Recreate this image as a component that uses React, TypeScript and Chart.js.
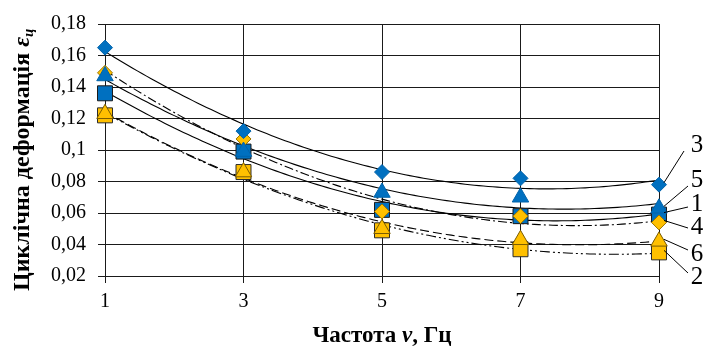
import React, { useEffect, useRef } from "react";
import { Chart, registerables } from "chart.js";

Chart.register(...registerables);

// ---- data ----
const frequencies = [1, 3, 5, 7, 9];
const series3 = [0.165, 0.112, 0.086, 0.082, 0.078]; // blue diamond
const series5 = [0.147, 0.099, 0.073, 0.07, 0.063]; // blue triangle
const series1 = [0.136, 0.099, 0.062, 0.058, 0.059]; // blue square
const series4 = [0.149, 0.107, 0.061, 0.058, 0.054]; // yellow diamond
const series6 = [0.123, 0.086, 0.05, 0.043, 0.042]; // yellow triangle
const series2 = [0.122, 0.086, 0.049, 0.037, 0.035]; // yellow square
const xTickValues = [1, 3, 5, 7, 9];
const yTickValues = [0.02, 0.04, 0.06, 0.08, 0.1, 0.12, 0.14, 0.16, 0.18];
const yTitle = "Циклічна деформація ";
const yTitleSymbol = "ε";
const yTitleSub = "ц";
const xTitleA = "Частота ";
const xTitleSym = "ν";
const xTitleB = ", Гц";

const FONT = "'Liberation Serif', 'Times New Roman', serif";

type Def = {
  label: string;
  values: number[];
  pointStyle: string;
  radius: number;
  fill: string;
  stroke: string;
  dash: number[];
  order: number;
  labelY: number;
  leaderStart: [number, number];
};

const defs: Def[] = [
  { label: "3", values: series3, pointStyle: "rectRot", radius: 7.5, fill: "#0070C0", stroke: "#0063AA", dash: [], order: 0, labelY: 145, leaderStart: [684, 151] },
  { label: "5", values: series5, pointStyle: "triangle", radius: 9.5, fill: "#0070C0", stroke: "#0063AA", dash: [], order: 1, labelY: 180, leaderStart: [688, 186] },
  { label: "1", values: series1, pointStyle: "rect", radius: 10.6, fill: "#0070C0", stroke: "#1b1b1b", dash: [], order: 3, labelY: 204, leaderStart: [688, 207] },
  { label: "4", values: series4, pointStyle: "rectRot", radius: 7.5, fill: "#FFC000", stroke: "#9a7400", dash: [9, 3, 2, 3], order: 2, labelY: 227, leaderStart: [688, 228] },
  { label: "6", values: series6, pointStyle: "triangle", radius: 9.5, fill: "#FFC000", stroke: "#7a5c00", dash: [9, 4], order: 4, labelY: 254, leaderStart: [688, 250] },
  { label: "2", values: series2, pointStyle: "rect", radius: 10.6, fill: "#FFC000", stroke: "#2b2b2b", dash: [10, 3, 2, 3, 2, 3], order: 5, labelY: 277, leaderStart: [688, 273] },
];

function quadFit(xs: number[], ys: number[]) {
  let s0 = 0, s1 = 0, s2 = 0, s3 = 0, s4 = 0, t0 = 0, t1 = 0, t2 = 0;
  for (let i = 0; i < xs.length; i++) {
    const x = xs[i], y = ys[i];
    s0 += 1; s1 += x; s2 += x * x; s3 += x * x * x; s4 += x * x * x * x;
    t0 += y; t1 += x * y; t2 += x * x * y;
  }
  const det3 = (m: number[][]) =>
    m[0][0] * (m[1][1] * m[2][2] - m[1][2] * m[2][1]) -
    m[0][1] * (m[1][0] * m[2][2] - m[1][2] * m[2][0]) +
    m[0][2] * (m[1][0] * m[2][1] - m[1][1] * m[2][0]);
  const M = [[s0, s1, s2], [s1, s2, s3], [s2, s3, s4]];
  const T = [t0, t1, t2];
  const D = det3(M);
  const coef = [0, 1, 2].map((c) => {
    const Mc = M.map((row, r) => row.map((v, k) => (k === c ? T[r] : v)));
    return det3(Mc) / D;
  });
  return (x: number) => coef[0] + coef[1] * x + coef[2] * x * x;
}

const fmt = (v: number) => String(parseFloat(v.toFixed(2))).replace(".", ",");

const decorPlugin = {
  id: "decor",
  beforeDatasetsDraw(chart: any) {
    const { ctx, chartArea, scales } = chart;
    const xs = scales.x, ys = scales.y;
    ctx.save();
    ctx.beginPath();
    ctx.rect(chartArea.left, chartArea.top, chartArea.right - chartArea.left, chartArea.bottom - chartArea.top);
    ctx.clip();
    ctx.strokeStyle = "#000";
    ctx.lineWidth = 1.1;
    const x0 = frequencies[0], x1 = frequencies[frequencies.length - 1];
    defs.forEach((d) => {
      const f = quadFit(frequencies, d.values);
      ctx.setLineDash(d.dash);
      ctx.beginPath();
      const n = 120;
      for (let i = 0; i <= n; i++) {
        const xv = x0 + ((x1 - x0) * i) / n;
        const px = xs.getPixelForValue(xv);
        const py = ys.getPixelForValue(f(xv));
        if (i === 0) ctx.moveTo(px, py);
        else ctx.lineTo(px, py);
      }
      ctx.stroke();
    });
    ctx.restore();
  },
  afterDraw(chart: any) {
    const { ctx, chartArea, scales } = chart;
    const xs = scales.x, ys = scales.y;
    ctx.save();
    // series labels with leader lines
    ctx.fillStyle = "#000";
    ctx.strokeStyle = "#000";
    ctx.lineWidth = 1;
    ctx.font = `25px ${FONT}`;
    ctx.textAlign = "center";
    ctx.textBaseline = "middle";
    const lastX = frequencies[frequencies.length - 1];
    defs.forEach((d) => {
      const ex = xs.getPixelForValue(lastX) + 5;
      const ey = ys.getPixelForValue(d.values[d.values.length - 1]) - 2;
      ctx.beginPath();
      ctx.moveTo(d.leaderStart[0], d.leaderStart[1]);
      ctx.lineTo(ex, ey);
      ctx.stroke();
      ctx.fillText(d.label, 697, d.labelY);
    });

    // y axis title (rotated)
    ctx.save();
    ctx.translate(29, 291);
    ctx.rotate(-Math.PI / 2);
    ctx.textAlign = "left";
    ctx.textBaseline = "alphabetic";
    ctx.font = `bold 24px ${FONT}`;
    let w = 0;
    ctx.fillText(yTitle, w, 0);
    w += ctx.measureText(yTitle).width;
    ctx.font = `italic bold 24px ${FONT}`;
    ctx.fillText(yTitleSymbol, w, 0);
    w += ctx.measureText(yTitleSymbol).width;
    ctx.font = `italic bold 15px ${FONT}`;
    ctx.fillText(yTitleSub, w, 4);
    ctx.restore();

    // x axis title
    ctx.textBaseline = "alphabetic";
    ctx.textAlign = "left";
    const cx = (chartArea.left + chartArea.right) / 2;
    ctx.font = `bold 23px ${FONT}`;
    const wa = ctx.measureText(xTitleA).width;
    const wc = ctx.measureText(xTitleB).width;
    ctx.font = `italic bold 23px ${FONT}`;
    const wb = ctx.measureText(xTitleSym).width;
    let sx = cx - (wa + wb + wc) / 2;
    const by = 342;
    ctx.font = `bold 23px ${FONT}`;
    ctx.fillText(xTitleA, sx, by);
    sx += wa;
    ctx.font = `italic bold 23px ${FONT}`;
    ctx.fillText(xTitleSym, sx, by);
    sx += wb;
    ctx.font = `bold 23px ${FONT}`;
    ctx.fillText(xTitleB, sx, by);
    ctx.restore();
  },
};

export default function App() {
  const ref = useRef<HTMLCanvasElement | null>(null);
  useEffect(() => {
    if (!ref.current) return;
    const chart = new Chart(ref.current, {
      type: "scatter",
      data: {
        datasets: defs.map((d) => ({
          label: d.label,
          data: frequencies.map((x, i) => ({ x, y: d.values[i] })),
          pointStyle: d.pointStyle as any,
          pointRadius: d.radius,
          pointBackgroundColor: d.fill,
          pointBorderColor: d.stroke,
          pointBorderWidth: 1,
          showLine: false,
          clip: false as any,
          order: d.order,
        })),
      },
      options: {
        animation: false,
        responsive: false,
        devicePixelRatio: 1,
        layout: { padding: { left: 0, top: 23, right: 46, bottom: 0 } },
        plugins: { legend: { display: false }, tooltip: { enabled: false } },
        scales: {
          x: {
            type: "linear",
            min: 1,
            max: 9,
            afterFit: (s: any) => { s.height = 71; },
            afterBuildTicks: (s: any) => { s.ticks = xTickValues.map((v) => ({ value: v })); },
            ticks: { color: "#000", font: { family: FONT, size: 20 }, padding: 7, callback: (v: any) => String(v) },
            grid: { color: "#1a1a1a", lineWidth: 1, tickLength: 7 },
            border: { color: "#1a1a1a", width: 1 },
          },
          y: {
            type: "linear",
            min: 0.02,
            max: 0.18,
            afterFit: (s: any) => { s.width = 105; },
            afterBuildTicks: (s: any) => { s.ticks = yTickValues.map((v) => ({ value: v })); },
            ticks: { color: "#000", font: { family: FONT, size: 20 }, padding: 12, callback: (v: any) => fmt(Number(v)) },
            grid: { color: "#1a1a1a", lineWidth: 1, tickLength: 7 },
            border: { color: "#1a1a1a", width: 1 },
          },
        },
      },
      plugins: [decorPlugin],
    });
    return () => chart.destroy();
  }, []);
  return (
    <div style={{ position: "absolute", left: 0, top: 0, width: 705, height: 347, background: "#fff" }}>
      <canvas ref={ref} width={705} height={347} style={{ display: "block" }} />
    </div>
  );
}
